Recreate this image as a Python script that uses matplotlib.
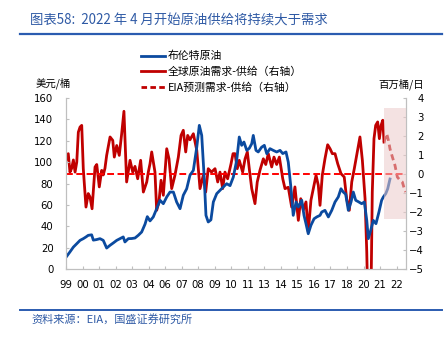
import matplotlib
matplotlib.use("Agg")
import matplotlib.pyplot as plt
from matplotlib.lines import Line2D
import numpy as np

plt.rcParams['font.family'] = ['Noto Sans CJK SC', 'DejaVu Sans']

# 布伦特原油 (美元/桶), time in decimal years
brent_t = [1999.00, 1999.28, 1999.52, 1999.76, 1999.99, 2000.22, 2000.41, 2000.57, 2000.81, 2000.93,
           2001.15, 2001.40, 2001.63, 2001.87, 2002.11, 2002.35, 2002.58, 2002.81, 2003.04, 2003.16,
           2003.40, 2003.63, 2003.87, 2004.10, 2004.34, 2004.58, 2004.74, 2004.93, 2005.16, 2005.40,
           2005.64, 2005.87, 2006.11, 2006.34, 2006.58, 2006.81, 2007.05, 2007.28, 2007.52, 2007.75,
           2007.99, 2008.23, 2008.41, 2008.58, 2008.76, 2008.88, 2009.04, 2009.23, 2009.40, 2009.64,
           2009.87, 2010.10, 2010.34, 2010.58, 2010.81, 2011.05, 2011.23, 2011.40, 2011.56, 2011.76,
           2011.94, 2012.11, 2012.22, 2012.41, 2012.57, 2012.81, 2013.00, 2013.17, 2013.40, 2013.63,
           2013.87, 2014.11, 2014.30, 2014.53, 2014.69, 2014.86, 2015.04, 2015.24, 2015.40, 2015.64,
           2015.80, 2015.94, 2016.10, 2016.29, 2016.51, 2016.70, 2016.93, 2017.05, 2017.28, 2017.52,
           2017.76, 2017.99, 2018.22, 2018.41, 2018.57, 2018.74, 2018.93, 2019.12, 2019.28, 2019.45,
           2019.63, 2019.87, 2020.06, 2020.23, 2020.34, 2020.51, 2020.69, 2020.88, 2021.09, 2021.28,
           2021.40, 2021.57, 2021.71, 2021.87]
brent = [11, 16, 20.5, 23.7, 26.8, 28.4, 30, 31.5, 32, 27,
         27.5, 28.4, 26.8, 19.6, 22.2, 24.5, 26.8, 28.4, 30, 25.3,
         28.4, 28.5, 29, 31.5, 34.6, 42, 49, 45, 48.7, 56.4,
         64.3, 61.1, 67.4, 72, 72, 62.7, 56.4, 69, 75.1, 87.7,
         92.3, 114, 134.4, 125, 84.5, 50.2, 44, 46, 62.7, 70.5,
         73.6, 76.7, 79.8, 78, 86, 101.7, 123.5, 115.7, 118.8, 111,
         113, 117.2, 125, 111, 109.5, 114, 115.7, 107.9, 112.6, 111,
         109.5, 111, 108, 109.5, 100, 78.3, 50.2, 62.7, 58, 64.3,
         50.2, 42.4, 33, 40.9, 47, 48.7, 50.2, 53.3, 54.9, 48.7,
         54.9, 62.7, 67.4, 75.1, 72, 70, 54.9, 62.7, 72, 64.3,
         63, 61.1, 62.7, 45.5, 28.4, 36.2, 45.5, 42.4, 53.3, 64.3,
         67.4, 70.5, 75.1, 84.2]

# 全球原油需求-供给 (百万桶/日)
bal_t = [1999.00, 1999.16, 1999.28, 1999.40, 1999.52, 1999.64, 1999.76, 1999.87, 1999.99, 2000.11,
         2000.22, 2000.41, 2000.57, 2000.69, 2000.84, 2001.05, 2001.17, 2001.35, 2001.52, 2001.63,
         2001.75, 2001.87, 2002.11, 2002.30, 2002.41, 2002.58, 2002.76, 2002.93, 2003.09, 2003.28,
         2003.52, 2003.71, 2003.87, 2004.06, 2004.27, 2004.46, 2004.70, 2004.81, 2004.93, 2005.05,
         2005.28, 2005.40, 2005.56, 2005.71, 2005.87, 2006.11, 2006.27, 2006.46, 2006.69, 2006.93,
         2007.12, 2007.28, 2007.45, 2007.59, 2007.75, 2007.99, 2008.23, 2008.46, 2008.69, 2008.86,
         2009.04, 2009.27, 2009.52, 2009.71, 2009.87, 2010.06, 2010.22, 2010.41, 2010.65, 2010.79,
         2010.93, 2011.09, 2011.23, 2011.47, 2011.64, 2011.80, 2011.95, 2012.11, 2012.34, 2012.50,
         2012.69, 2012.93, 2013.10, 2013.28, 2013.52, 2013.68, 2013.87, 2014.06, 2014.30, 2014.46,
         2014.69, 2014.93, 2015.16, 2015.40, 2015.57, 2015.75, 2015.94, 2016.10, 2016.29, 2016.46,
         2016.65, 2016.81, 2016.93, 2017.09, 2017.28, 2017.47, 2017.64, 2017.80, 2017.99, 2018.18,
         2018.41, 2018.64, 2018.81, 2019.00, 2019.17, 2019.35, 2019.52, 2019.75, 2019.92, 2020.11,
         2020.23, 2020.34, 2020.51, 2020.62, 2020.74, 2020.86, 2021.00, 2021.12, 2021.24, 2021.36,
         2021.45]
balance = [0.72, 1.07, 0.1, 0.3, 0.74, 0.1, 0.63, 2.2, 2.47, 2.56,
           0.28, -1.74, -1.03, -1.2, -1.83, 0.37, 0.5, -0.68, 0.19, -0.05,
           0.3, 0.98, 1.95, 1.77, 0.89, 1.5, 0.98, 2.12, 3.3, -0.42,
           0.72, 0.1, 0.4, -0.25, 0.72, -0.95, -0.42, 0.1, 0.54, 1.16,
           0.1, -1.91, -1.47, -0.33, -1.12, 1.33, 0.8, -0.77, -0.07, 0.89,
           2.03, 2.3, 1.16, 2.03, 1.8, 2.12, 1.25, -0.77, -0.07, -0.95,
           0.28, 0.1, 0.28, -0.42, 0.1, -0.77, 0.1, -0.25, 0.54, 1.07,
           1.07, 0.28, 0.72, 0.1, 0.8, 1.16, 0.2, -0.77, -1.56, -0.42,
           0.19, 0.8, 0.5, 1.07, 0.37, 0.89, 0.5, 0.89, -0.25, -0.77,
           -0.7, -1.74, -0.68, -2.44, -1.3, -1.9, -1.47, -3.05, -1.38, -0.77,
           -0.07, -0.6, -1.65, -0.07, 0.8, 1.54, 1.33, 1.07, 1.07, 0.54,
           0.02, -0.16, -1.3, -1.91, -0.42, 0.28, 0.98, 1.95, 0.72, -1.3,
           -4.1, -8.0, -7.5, -0.95, 1.86, 2.56, 2.74, 1.86, 2.56, 2.83,
           1.68]

# EIA预测需求-供给
fc_t = [2021.45, 2021.52, 2021.64, 2021.76, 2021.87, 2022.04, 2022.22, 2022.39, 2022.58, 2022.74,
        2022.88, 2022.98]
forecast = [1.68, 1.86, 2.12, 1.77, 1.33, 0.89, 0.46, -0.16, -0.33, -0.42, -0.77, -0.95]

tick_labels = ['99', '00', '01', '02', '03', '04', '06', '07', '08', '09', '10',
               '11', '13', '14', '15', '16', '17', '18', '20', '21', '22']
tick_pos = [1999 + 14 * i / 12 for i in range(len(tick_labels))]

blue = '#0B4A9F'
red = '#C00000'
txt_blue = '#2F5AA5'

fig = plt.figure(figsize=(4.48, 3.38), dpi=100)
ax1 = fig.add_axes([66 / 448, 1 - 269 / 338, 340 / 448, 171 / 338])
ax2 = ax1.twinx()
ax1.set_zorder(ax2.get_zorder() + 1)
ax1.patch.set_visible(False)

ax2.plot(bal_t, balance, color=red, lw=2.0, solid_joinstyle='round')
ax2.plot(fc_t, forecast, color=red, lw=2.0, ls=(0, (2.2, 1.4)))
ax2.axhline(0, color='#FF0000', lw=1.4, ls=(0, (3.5, 1.8)))
ax1.plot(brent_t, brent, color=blue, lw=2.0, solid_joinstyle='round')

# forecast shading drawn on top
ax2_to_1 = lambda v: (v + 5) * 160 / 9
ax1.fill_between([2021.45, 2023.0], ax2_to_1(-2.35), ax2_to_1(3.45),
                 color='#EBCBCB', alpha=0.55, lw=0, zorder=10)

ax1.set_xlim(1999, 2023)
ax1.set_ylim(0, 160)
ax2.set_ylim(-5, 4)
ax1.set_yticks(range(0, 161, 20))
ax2.set_yticks(range(-5, 5))
ax1.set_xticks(tick_pos)
ax1.set_xticklabels(tick_labels)

for ax in (ax1, ax2):
    for s in ax.spines.values():
        s.set_color('#BFBFBF')
        s.set_linewidth(0.8)
    ax.spines['top'].set_visible(False)
    ax.tick_params(direction='in', length=2.5, width=0.8, color='#BFBFBF',
                   labelsize=7.3, labelfontfamily='DejaVu Sans')
ax1.tick_params(axis='y', pad=9)
ax1.tick_params(axis='x', pad=8)
ax2.tick_params(axis='y', pad=13)
for lab in ax2.get_yticklabels():
    lab.set_horizontalalignment('right')

fig.text(36 / 448, 1 - 83 / 338, '美元/桶', fontsize=7.5, va='center', ha='left')
fig.text(424 / 448, 1 - 84 / 338, '百万桶/日', fontsize=7.5, va='center', ha='right')

handles = [Line2D([], [], color=blue, lw=2),
           Line2D([], [], color=red, lw=2),
           Line2D([], [], color=red, lw=2, ls=(0, (2, 1.2)))]
labels = ['布伦特原油', '全球原油需求-供给（右轴）', 'EIA预测需求-供给（右轴）']
fig.legend(handles, labels, loc='upper left', bbox_to_anchor=(141 / 448, 1 - 51 / 338),
           frameon=False, fontsize=7.8, handlelength=2.2, handletextpad=0.3,
           labelspacing=0.5, borderpad=0, borderaxespad=0)

fig.text(30 / 448, 1 - 21 / 338, '图表58:  2022 年 4 月开始原油供给将持续大于需求',
         fontsize=9.6, color=txt_blue, style='italic', va='center', ha='left')
fig.add_artist(Line2D([20 / 448, 442 / 448], [1 - 34 / 338] * 2, color='#2B5CB0', lw=1.6))
fig.add_artist(Line2D([20 / 448, 442 / 448], [1 - 310 / 338] * 2, color='#2B5CB0', lw=1.4))
fig.text(31 / 448, 1 - 319 / 338, '资料来源：EIA，国盛证券研究所',
         fontsize=8.0, color=txt_blue, style='italic', va='center', ha='left')

fig.savefig('out.png', dpi=100)
